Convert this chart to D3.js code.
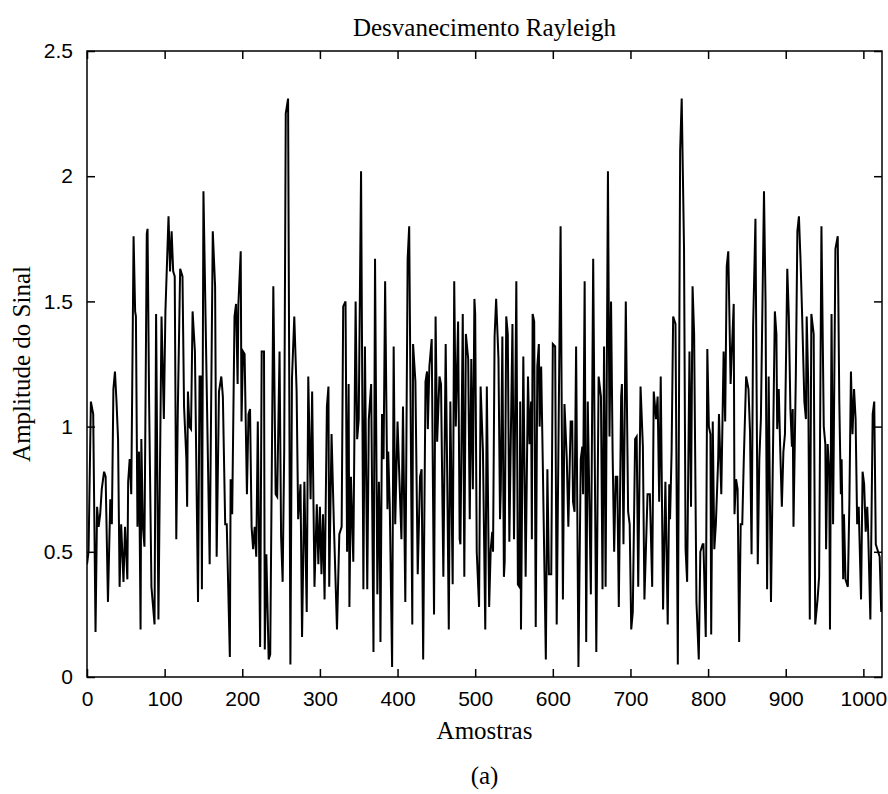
<!DOCTYPE html>
<html>
<head>
<meta charset="utf-8">
<script src="https://cdn.jsdelivr.net/npm/d3@7"></script>
<style>
  html, body { margin: 0; padding: 0; background: #fff; }
  svg { display: block; }
</style>
</head>
<body>
<svg id="chart" width="888" height="794"></svg>
<script>
// ---- data (vertices) ----
const samples = [
0,2,5,8,11,13,15,17,19,22,24,27,30,32,34,36,38,40,42,44,47,49,52,53,55,57,60,62,63,65,67,69,70,72,74,77,78,80,83,87,89,92,96,99,101,105,107,109,111,113,115,117,120,123,125,
128,129,130,132,134,136,139,143,145,147,148,150,158,162,165,167,170,173,175,178,180,184,185,187,190,192,194,195,198,199,201,203,206,208,210,212,214,216,218,220,223,225,228,229,231,234,236,240,243,245,248,
250,252,254,256,259,262,264,267,270,272,275,277,280,283,285,288,290,293,296,298,300,302,304,306,309,311,312,315,318,322,325,328,330,333,335,337,338,340,343,346,348,350,353,356,358,361,363,366,369,371,
374,376,377,378,380,382,384,387,388,390,393,395,397,400,402,405,407,410,413,415,419,420,423,426,429,431,433,436,438,439,441,444,447,449,451,454,456,459,462,464,466,468,471,473,475,478,480,481,484,486,488,491,493,495,497,499,500,
502,505,507,510,513,515,518,520,522,523,525,527,530,532,533,535,537,538,540,542,544,548,550,553,555,557,558,559,562,565,568,570,572,573,574,576,578,580,582,583,585,587,591,593,595,598,600,603,605,610,613,615,
618,620,623,625,626,628,630,633,636,638,639,641,643,645,649,652,656,659,662,664,666,668,671,673,675,677,679,681,683,685,688,689,691,694,697,699,701,703,706,708,710,713,716,718,722,725,728,730,733,735,737,739,
742,745,748,750,751,753,755,758,761,764,766,769,771,773,776,778,780,782,785,788,790,793,794,797,799,801,803,804,806,808,810,813,814,817,820,822,824,826,829,833,834,836,838,840,842,844,846,849,852,854,856,858,861,
864,866,868,872,874,876,878,881,884,886,888,889,891,893,895,897,899,902,904,906,908,909,910,913,915,917,919,921,924,926,927,929,931,933,936,938,941,943,946,949,951,952,954,956,957,959,961,964,967,969,971,972,974,975,977,980,982,984,986,988,990,992,994,997,999,1001,1003,1005,1006,1009,1012,1014,1016,1019,1021,1023
];
const amplitude = [
0.45,0.5,1.1,1.05,0.18,0.68,0.6,0.65,0.75,0.82,0.8,0.3,0.71,0.61,1.15,1.22,1.1,0.95,0.36,0.61,0.38,0.6,0.39,0.78,0.87,0.73,1.76,1.46,1.44,0.6,0.9,0.19,0.95,0.6,0.52,1.77,1.79,1.1,0.36,0.21,1.45,0.23,1.44,1.03,1.46,1.84,1.62,1.78,1.62,1.6,0.55,1.07,1.63,1.6,1.08,
0.87,0.68,1.14,1.0,0.99,1.46,1.3,0.3,1.2,1.2,0.35,1.94,0.45,1.78,1.56,0.48,1.14,1.2,1.12,0.61,0.61,0.08,0.79,0.65,1.44,1.49,1.17,1.49,1.7,1.02,1.3,1.29,0.73,1.05,1.07,0.6,0.51,0.6,0.48,1.02,0.12,1.3,1.3,0.11,0.49,0.07,0.09,1.56,0.73,0.72,1.3,
0.56,0.38,0.9,2.25,2.31,0.05,1.19,1.44,1.14,0.63,0.77,0.16,0.78,0.26,1.2,0.71,1.14,0.36,0.69,0.45,0.68,0.41,0.65,0.31,1.08,1.16,0.36,0.97,0.61,0.19,0.57,0.6,1.48,1.5,0.5,1.17,0.28,0.8,0.46,1.5,0.95,1.03,2.02,0.35,1.32,0.35,1.03,1.17,0.1,1.67,
0.33,0.78,0.6,0.14,1.05,0.87,1.58,0.67,0.9,0.68,0.04,1.32,0.61,1.02,0.83,0.55,1.08,0.3,1.67,1.8,0.21,1.33,1.18,0.41,0.8,0.83,0.07,1.18,1.22,0.99,1.24,1.35,0.25,1.44,0.94,1.2,1.17,0.4,1.33,0.8,0.19,1.1,0.37,1.58,1.0,1.42,0.55,0.53,1.45,0.4,1.37,1.27,0.63,1.27,0.75,1.51,1.45,
0.5,0.28,1.16,0.9,0.19,1.16,0.28,0.51,0.58,0.5,1.36,1.51,1.27,0.63,0.75,1.36,0.4,0.46,1.44,1.37,0.54,1.41,0.55,1.58,0.37,0.36,1.1,0.19,1.28,0.4,1.2,0.93,1.1,0.55,1.45,1.42,0.2,1.24,1.33,1.0,1.24,0.87,0.07,0.83,0.41,0.41,1.33,1.32,0.21,1.8,0.31,1.09,
0.87,0.6,1.02,1.02,0.7,0.66,1.32,0.04,0.87,0.92,0.73,1.58,0.14,1.1,0.33,1.67,0.1,1.2,1.12,0.35,1.32,0.36,2.02,0.96,1.5,0.9,0.5,0.8,0.8,0.28,1.12,1.17,0.53,1.5,0.66,0.61,0.19,0.26,0.95,0.96,0.36,1.16,0.92,0.31,0.73,0.73,0.36,1.14,1.03,1.12,0.7,1.2,
0.27,0.78,0.21,0.77,0.63,0.9,1.44,1.41,0.05,2.1,2.31,1.71,0.51,0.38,1.3,0.68,1.56,1.37,0.3,0.07,0.5,0.53,0.53,0.16,1.31,1.0,0.97,0.17,1.02,0.51,0.61,0.87,1.05,0.73,1.3,1.02,1.64,1.7,1.17,1.49,0.65,0.79,0.75,0.14,0.61,0.61,0.87,1.2,1.15,0.98,0.49,1.4,1.83,
0.45,0.87,1.03,1.94,1.5,0.35,1.2,0.3,1.0,1.46,1.37,0.99,1.15,0.9,0.68,0.9,0.97,1.63,1.44,1.07,0.92,1.07,0.6,1.2,1.78,1.84,1.67,1.46,1.1,1.03,1.44,1.17,0.23,1.45,1.37,0.21,0.31,0.4,1.8,1.0,0.93,0.51,0.93,0.82,0.19,1.45,0.61,1.71,1.76,1.1,0.73,0.87,0.39,0.65,0.39,0.36,0.7,1.22,0.97,1.15,1.03,0.61,0.68,0.31,0.82,0.77,0.58,0.68,0.6,0.23,1.05,1.1,0.53,0.5,0.48,0.26
];
const xTicks = [0,100,200,300,400,500,600,700,800,900,1000];
const yTicks = [0,0.5,1,1.5,2,2.5];
const xDomain = [0,1024];
const yDomain = [0,2.5];
const titleText = "Desvanecimento Rayleigh";
const xLabelText = "Amostras";
const yLabelText = "Amplitude do Sinal";
const captionText = "(a)";

// ---- layout ----
const W = 888, H = 794;
const m = {left: 87, right: 6, top: 51, bottom: 117};
const iw = W - m.left - m.right, ih = H - m.top - m.bottom;
const svg = d3.select("#chart");
svg.append("rect").attr("width", W).attr("height", H).attr("fill", "#fff");
const g = svg.append("g").attr("transform", `translate(${m.left},${m.top})`);

const x = d3.scaleLinear().domain(xDomain).range([0, iw]);
const y = d3.scaleLinear().domain(yDomain).range([ih, 0]);

const pts = samples.map((s, i) => [s, amplitude[i]]);

svg.append("defs").append("clipPath").attr("id", "clip")
  .append("rect").attr("width", iw).attr("height", ih);

g.append("path")
  .datum(pts)
  .attr("clip-path", "url(#clip)")
  .attr("fill", "none")
  .attr("stroke", "#000")
  .attr("stroke-width", 2)
  .attr("stroke-linejoin", "miter")
  .attr("d", d3.line().x(d => x(d[0])).y(d => y(d[1])));

const tickLen = 8;
const sans = "'Liberation Sans', Arial, sans-serif";
const serif = "'Liberation Serif', 'Times New Roman', serif";
const labelSize = "25px";

const axB = d3.axisBottom(x).tickValues(xTicks).tickSizeInner(-tickLen).tickSizeOuter(0).tickPadding(14).tickFormat(d3.format("d"));
const axT = d3.axisTop(x).tickValues(xTicks).tickSizeInner(-tickLen).tickSizeOuter(0).tickFormat("");
const axL = d3.axisLeft(y).tickValues(yTicks).tickSizeInner(-tickLen).tickSizeOuter(0).tickPadding(14).tickFormat(d => d3.format("")(d));
const axR = d3.axisRight(y).tickValues(yTicks).tickSizeInner(-tickLen).tickSizeOuter(0).tickFormat("");

function style(sel) {
  sel.select(".domain").remove();
  sel.selectAll("line").attr("stroke", "#000").attr("stroke-width", 1.5);
  sel.selectAll("text").attr("fill", "#000").style("font-family", sans).style("font-size", "21px");
}
g.append("g").attr("transform", `translate(0,${ih})`).call(axB).call(style);
g.append("g").call(axT).call(style);
g.append("g").call(axL).call(style);
g.append("g").attr("transform", `translate(${iw},0)`).call(axR).call(style);

g.append("rect").attr("width", iw).attr("height", ih)
  .attr("fill", "none").attr("stroke", "#000").attr("stroke-width", 1.5);

svg.append("text").attr("x", m.left + iw / 2).attr("y", 36)
  .attr("text-anchor", "middle").style("font-family", serif).style("font-size", labelSize)
  .text(titleText);
svg.append("text").attr("x", m.left + iw / 2).attr("y", 739)
  .attr("text-anchor", "middle").style("font-family", serif).style("font-size", labelSize)
  .text(xLabelText);
svg.append("text").attr("transform", `translate(30,${m.top + ih / 2}) rotate(-90)`)
  .attr("text-anchor", "middle").style("font-family", serif).style("font-size", labelSize)
  .text(yLabelText);
svg.append("text").attr("x", m.left + iw / 2).attr("y", 784)
  .attr("text-anchor", "middle").style("font-family", serif).style("font-size", labelSize)
  .text(captionText);
</script>
</body>
</html>
